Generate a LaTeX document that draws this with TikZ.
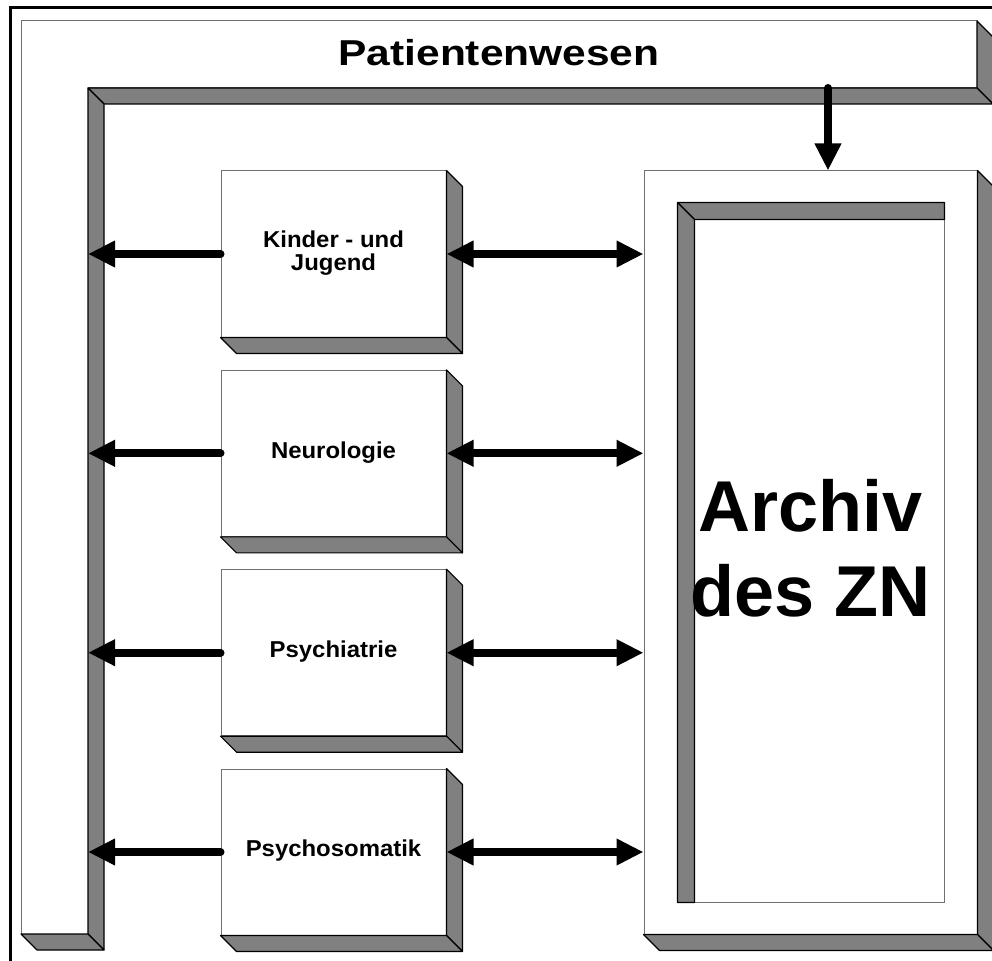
\documentclass[tikz,border=0pt]{standalone}
\usepackage{fontspec}
\setmainfont{Liberation Sans}
\usetikzlibrary{arrows.meta,calc}

\definecolor{facegray}{HTML}{808080}
\definecolor{edgegray}{HTML}{707070}

% bold labels, slightly widened as in the original drawing
\newcommand{\deptlabel}[1]{\scalebox{1.04}[1]{\begin{tabular}{@{}c@{}}#1\end{tabular}}}

\begin{document}
\begin{tikzpicture}[x=1pt,y=-1pt,
  face/.style={fill=facegray,draw=black,line width=1.1pt,line join=round},
  front/.style={fill=white,draw=edgegray,line width=1pt},
  dept/.style={front,minimum width=225pt,minimum height=166pt,inner sep=0pt,
    font=\fontsize{23}{22.5}\selectfont\bfseries},
  tip/.tip={Triangle[length=27pt,width=25pt]},
  link/.style={line width=8pt,line cap=round,-tip},
  duplex/.style={line width=8pt,tip-tip}]

\useasboundingbox (0,0) rectangle (992,960);
\clip (0,0) rectangle (992,960);

% page frame
\draw[line width=3pt] (10,7.5) rectangle (1010,990);

% "Patientenwesen": extruded frame along the top and the left
\path[front] (21,21) -- (977,21) -- (977,88) -- (88,88) -- (88,934) -- (21,934) -- cycle;
\path[face] (977,21) -- (993,37) -- (993,104) -- (977,88) -- cycle;
\path[face] (88,88) -- (977,88) -- (993,104) -- (104,104) -- cycle;
\path[face] (88,88) -- (104,104) -- (104,950) -- (88,934) -- cycle;
\path[face] (21,934) -- (88,934) -- (104,950) -- (37,950) -- cycle;
\coordinate (pwbar) at (88,0);
\coordinate (pwbase) at (828,88);
\node[anchor=base] (pwlabel) at (499,66)
  {\scalebox{1.18}[1]{\fontsize{36}{40}\selectfont\bfseries Patientenwesen}};

% side faces of an extruded box node
\newcommand{\extrude}[1]{%
  \path[face] (#1.north east) -- ++(16,16) -- ($(#1.south east)+(16,16)$)
    -- (#1.south east) -- cycle;
  \path[face] (#1.south west) -- ++(16,16) -- ($(#1.south east)+(16,16)$)
    -- (#1.south east) -- cycle;}

% archive block with its sunken panel
\node[front,minimum width=333pt,minimum height=763pt,inner sep=0pt] (archiv)
  at (810.5,552.5) {};
\extrude{archiv}
\coordinate (panelA) at ($(archiv.north west)+(34,32)$);
\coordinate (panelB) at ($(archiv.south east)+(-33,-32)$);
\draw[edgegray,line width=1pt] (panelA) rectangle (panelB);
\path[face] (panelA) -- (panelA -| panelB) -- ++(0,17) -- ($(panelA)+(17,17)$) -- cycle;
\path[face] (panelA) -- ($(panelA)+(17,17)$) -- ($(panelA |- panelB)+(17,0)$)
  -- (panelA |- panelB) -- cycle;
\node[align=center,font=\fontsize{72}{85}\selectfont\bfseries] (archivlabel)
  at ($(archiv.center)+(0,-4)$) {Archiv\\des ZN};

% departments
\node[dept] (kinder) at (333.5,254) {\deptlabel{Kinder - und\\Jugend}};
\node[dept] (neuro) at (333.5,453.3) {\deptlabel{Neurologie}};
\node[dept] (psychia) at (333.5,652.7) {\deptlabel{Psychiatrie}};
\node[dept] (psychoso) at (333.5,852) {\deptlabel{Psychosomatik}};
\foreach \d in {kinder,neuro,psychia,psychoso} {\extrude{\d}}

% connectors
\foreach \d in {kinder,neuro,psychia,psychoso} {
  \draw[link] (\d.west) -- (\d.west -| pwbar);
  \draw[duplex] (\d.east) -- (\d.east -| archiv.west);
}
\draw[link] (pwbase) -- (pwbase |- archiv.north);
\end{tikzpicture}
\end{document}
